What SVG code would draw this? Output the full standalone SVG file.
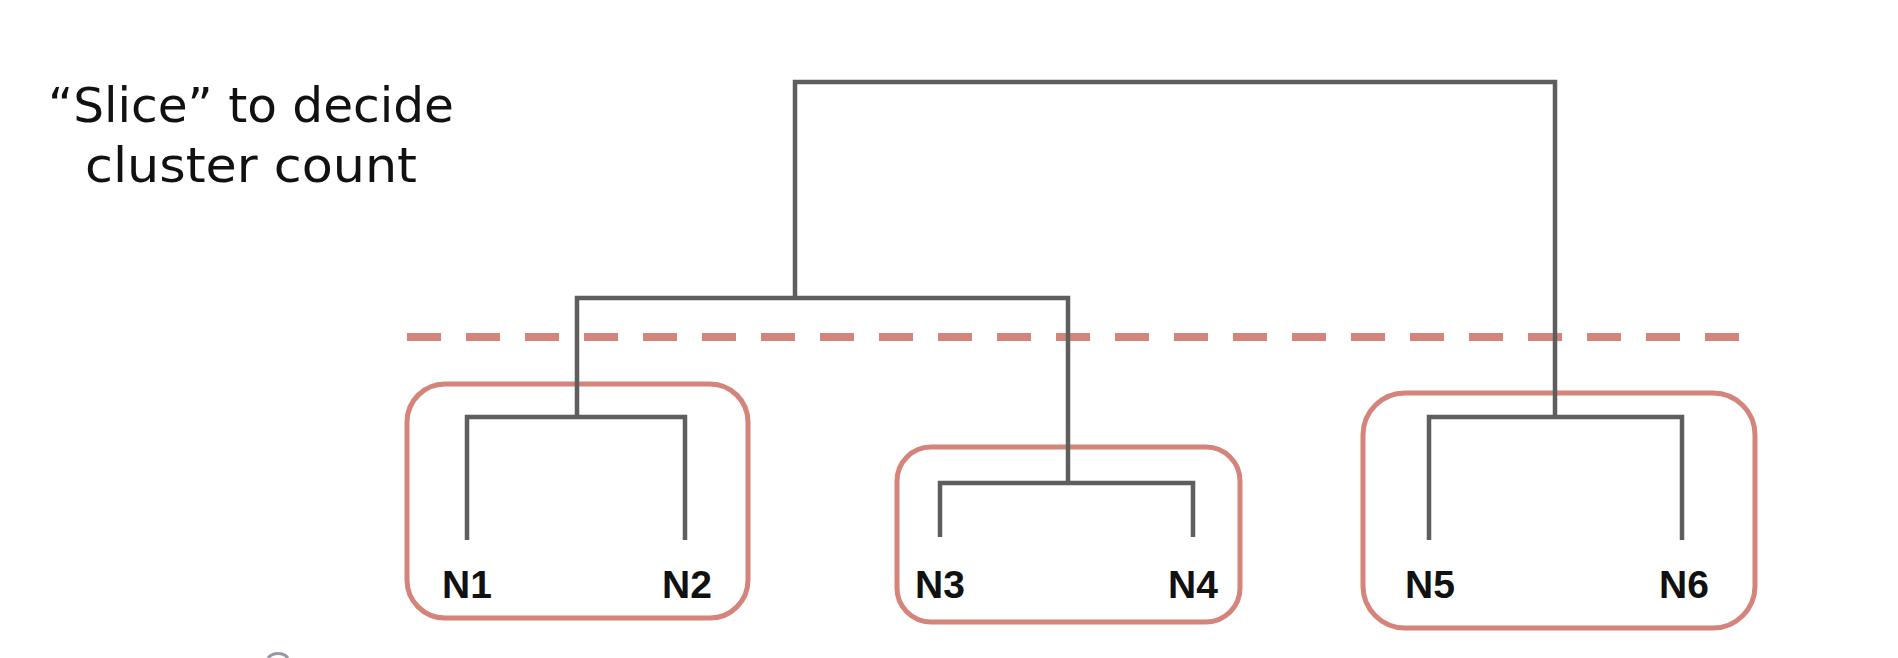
<svg xmlns="http://www.w3.org/2000/svg" width="1898" height="658" viewBox="0 0 1898 658">
<style>
.link{fill:none;stroke:#5e5e5e;stroke-width:4.5;stroke-linejoin:miter}
.box{fill:none;stroke:#d4847a;stroke-width:5}
.slice{fill:none;stroke:#d4847a;stroke-width:8;stroke-dasharray:34 25}
.lbl{font-family:"Liberation Sans",Arial,sans-serif;font-weight:bold;font-size:39px;fill:#111;text-anchor:middle}
.title{font-family:"DejaVu Sans","Liberation Sans",sans-serif;font-size:48px;fill:#111;text-anchor:middle}
</style>
<rect width="1898" height="658" fill="#ffffff"/>
<g id="title">
<text class="title" x="251" y="122" textLength="406" lengthAdjust="spacingAndGlyphs">“Slice” to decide</text>
<text class="title" x="251" y="182" textLength="332" lengthAdjust="spacingAndGlyphs">cluster count</text>
</g>
<g id="clusters">
<rect id="cluster1" class="box" x="407" y="384" width="341" height="234" rx="38"/>
<rect id="cluster2" class="box" x="897" y="447" width="343" height="175" rx="34"/>
<rect id="cluster3" class="box" x="1363" y="393" width="392" height="235" rx="42"/>
</g>
<line id="slice" class="slice" x1="407" y1="337" x2="1739" y2="337"/>
<g id="connectors">
<path class="link" d="M795 298 V82 H1555 V417"/>
<path class="link" d="M577 417 V298 H1068 V483"/>
<path class="link" d="M467 540 V417 H685 V540"/>
<path class="link" d="M940 537 V483 H1193 V537"/>
<path class="link" d="M1429 540 V417 H1682 V540"/>
</g>
<g id="n1"><text class="lbl" x="467" y="598">N1</text></g>
<g id="n2"><text class="lbl" x="687" y="598">N2</text></g>
<g id="n3"><text class="lbl" x="940" y="598">N3</text></g>
<g id="n4"><text class="lbl" x="1193" y="598">N4</text></g>
<g id="n5"><text class="lbl" x="1430" y="598">N5</text></g>
<g id="n6"><text class="lbl" x="1684" y="598">N6</text></g>
<path d="M268 658 A12 10 0 0 1 288 658" fill="none" stroke="#55556a" stroke-width="3" opacity="0.6"/>
</svg>
